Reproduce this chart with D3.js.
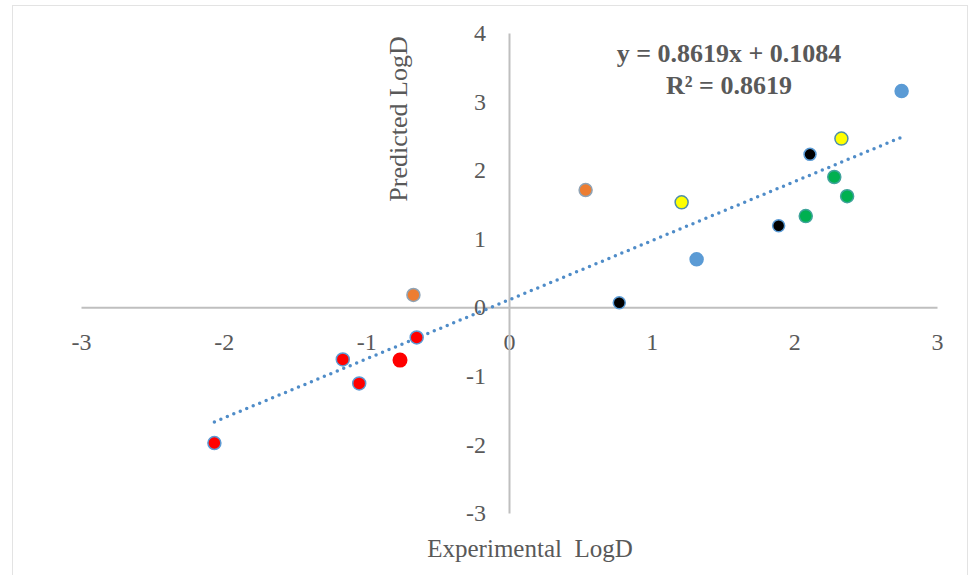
<!DOCTYPE html>
<html>
<head>
<meta charset="utf-8">
<script src="https://cdn.jsdelivr.net/npm/d3@7"></script>
<style>
  body { margin: 0; background: #fff; }
  svg { display: block; font-family: "Liberation Serif", "Times New Roman", serif; }
</style>
</head>
<body>
<div id="chart"></div>
<script>
// data (experimental logD, predicted logD)
const redX = [-2.065, -1.165, -1.05, -0.647];
const redY = [-1.98, -0.76, -1.11, -0.44];
const redBigX = [-0.764];
const redBigY = [-0.77];
const orangeX = [-0.67, 0.537];
const orangeY = [0.18, 1.71];
const blueX = [1.315, 2.752];
const blueY = [0.70, 3.154];
const yellowX = [1.21, 2.33];
const yellowY = [1.53, 2.46];
const blackX = [0.773, 1.89, 2.11];
const blackY = [0.067, 1.19, 2.23];
const greenX = [2.08, 2.28, 2.37];
const greenY = [1.33, 1.90, 1.62];

const xTicks = [-3, -2, -1, 0, 1, 2, 3];
const yTicks = [-3, -2, -1, 0, 1, 2, 3, 4];

const slope = 0.8619;
const intercept = 0.1084;
const rSquared = 0.8619;

const series = [
  { xs: redX, ys: redY, fill: '#FF0000', stroke: '#5B9BD5', r: 6.5 },
  { xs: redBigX, ys: redBigY, fill: '#FF0000', stroke: 'none', r: 7.5 },
  { xs: orangeX, ys: orangeY, fill: '#ED7D31', stroke: '#8FA3B5', r: 6.5 },
  { xs: blueX, ys: blueY, fill: '#5B9BD5', stroke: '#5B9BD5', r: 6.5 },
  { xs: yellowX, ys: yellowY, fill: '#FFFF00', stroke: '#4F8FA8', r: 6.5 },
  { xs: blackX, ys: blackY, fill: '#000000', stroke: '#5B9BD5', r: 6 },
  { xs: greenX, ys: greenY, fill: '#00B050', stroke: '#3FA39A', r: 6.5 },
];

const width = 969;
const height = 575;
const textColor = '#595959';
const axisColor = '#BFBFBF';

const svg = d3.select('#chart')
  .append('svg')
  .attr('width', width)
  .attr('height', height);

// light frame
svg.append('rect')
  .attr('x', 12.5).attr('y', 5.5)
  .attr('width', 955).attr('height', 575)
  .attr('fill', 'none')
  .attr('stroke', '#E3E3E3');

const x = d3.scaleLinear().domain([-3, 3]).range([81, 937]);
const y = d3.scaleLinear().domain([-3, 4]).range([513, 33]);

// plain hyphen minus, like the original
const fmt = (d) => String(d);

// x axis through y = 0
const xAxis = svg.append('g')
  .attr('transform', 'translate(0,' + y(0) + ')')
  .call(d3.axisBottom(x).tickValues(xTicks).tickSize(0).tickPadding(26).tickFormat(fmt));

// y axis through x = 0
const yAxis = svg.append('g')
  .attr('transform', 'translate(' + x(0) + ',0)')
  .call(d3.axisLeft(y).tickValues(yTicks).tickSize(0).tickPadding(23).tickFormat(fmt));

[xAxis, yAxis].forEach((g) => {
  g.select('.domain').attr('stroke', axisColor).attr('stroke-width', 2);
  g.selectAll('text')
    .attr('fill', textColor)
    .style('font-family', '"Liberation Serif", serif')
    .style('font-size', '24px');
});

// trend line
const xMin = d3.min([].concat(...series.map((s) => s.xs)));
const xMax = d3.max([].concat(...series.map((s) => s.xs)));
const trend = [xMin, xMax].map((v) => ({ x: v, y: slope * v + intercept }));

svg.append('path')
  .datum(trend)
  .attr('d', d3.line().x((d) => x(d.x)).y((d) => y(d.y)))
  .attr('fill', 'none')
  .attr('stroke', '#4F8CC8')
  .attr('stroke-width', 3.5)
  .attr('stroke-linecap', 'round')
  .attr('stroke-dasharray', '0 7');

// points
series.forEach((s) => {
  svg.append('g')
    .selectAll('circle')
    .data(s.xs.map((v, i) => ({ x: v, y: s.ys[i] })))
    .enter()
    .append('circle')
    .attr('cx', (d) => x(d.x))
    .attr('cy', (d) => y(d.y))
    .attr('r', s.r)
    .attr('fill', s.fill)
    .attr('stroke', s.stroke)
    .attr('stroke-width', 1.5);
});

// equation
svg.append('text')
  .attr('x', 729).attr('y', 62)
  .attr('text-anchor', 'middle')
  .attr('fill', textColor)
  .style('font-weight', 'bold')
  .style('font-size', '26px')
  .text('y = ' + slope + 'x + ' + intercept);

svg.append('text')
  .attr('x', 729).attr('y', 94)
  .attr('text-anchor', 'middle')
  .attr('fill', textColor)
  .style('font-weight', 'bold')
  .style('font-size', '26px')
  .text('R² = ' + rSquared);

// axis titles
svg.append('text')
  .attr('transform', 'translate(407,119) rotate(-90)')
  .attr('text-anchor', 'middle')
  .attr('fill', textColor)
  .style('font-size', '26px')
  .text('Predicted LogD');

svg.append('text')
  .attr('x', 530).attr('y', 557)
  .attr('text-anchor', 'middle')
  .attr('fill', textColor)
  .style('font-size', '25px')
  .style('white-space', 'pre')
  .text('Experimental  LogD');
</script>
</body>
</html>
